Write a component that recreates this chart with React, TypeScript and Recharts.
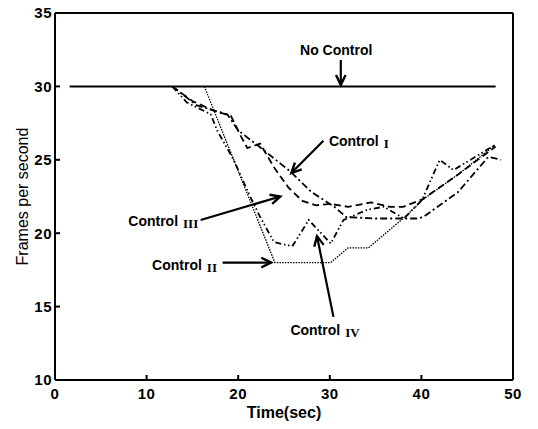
import React from "react";
import {
  LineChart,
  Line,
  XAxis,
  YAxis,
  ReferenceLine,
  ReferenceDot,
} from "recharts";

// time (sec) / frames per second
const noControlTime = [1.6, 48.1];
const noControlFps = [30, 30];

const control1Time = [12.8, 15.5, 18.8, 20, 22.5, 25.7, 28, 30.5, 31.8, 35, 39.5, 40.2, 44, 47.3, 48.7];
const control1Fps = [30, 28.7, 28.1, 27.0, 25.8, 24.2, 22.8, 21.8, 21.1, 21, 21, 21.1, 22.8, 25.2, 25];

const control2Time = [16.3, 24, 30.1, 32, 34.2, 38.2, 40.2, 44, 48];
const control2Fps = [30, 18, 18, 19, 19, 21.1, 22.3, 24, 26];

const control3Time = [12.8, 15, 17.5, 19.2, 20.3, 21, 22.4, 24, 25.5, 27, 28.5, 30, 32, 34.5, 36.5, 38, 40.1, 44, 48.1];
const control3Fps = [30, 29, 28.3, 28.0, 26.6, 25.8, 26.1, 24.4, 23.1, 22.2, 21.9, 22.0, 21.8, 22.1, 21.8, 21.8, 22.3, 24, 25.9];

const control4Time = [12.8, 14.4, 17, 17.7, 19.5, 21.3, 22.4, 23.9, 25.9, 27.7, 30.1, 31.5, 34.1, 35.9, 38.1, 40.1, 42, 43.5, 48];
const control4Fps = [30, 28.9, 28.1, 27.0, 25.0, 22.5, 21.1, 19.4, 19.1, 20.9, 19.3, 20.9, 21.6, 21.8, 21.0, 22.3, 25, 24.3, 26];

const xTicks = [0, 10, 20, 30, 40, 50];
const yTicks = [10, 15, 20, 25, 30, 35];

// annotations: label text, label anchor, arrow tail and tip
const labelMain = ["No Control", "Control", "Control", "Control", "Control"];
const labelNumeral = ["", "I", "III", "II", "IV"];
const labelX = [30.7, 29.9, 8.0, 10.6, 25.7];
const labelY = [32.5, 26.25, 20.8, 17.85, 13.4];
const arrowFromX = [31.2, 29.3, 15.9, 18.3, 30.4];
const arrowFromY = [31.8, 26.3, 20.9, 18.0, 14.3];
const arrowToX = [31.2, 25.8, 24.6, 23.6, 28.6];
const arrowToY = [30.1, 24.1, 22.5, 18.0, 19.8];

const pts = (t: number[], f: number[]) => t.map((time, i) => ({ time, fps: f[i] }));

const sans = "'Liberation Sans', Arial, Helvetica, sans-serif";
const serif = "'Liberation Serif', 'Times New Roman', serif";

const Arrow = (props: any) => {
  const { x1, y1, x2, y2 } = props;
  const a = Math.atan2(y2 - y1, x2 - x1);
  const len = 11;
  const s = 0.45;
  const p1 = [x2 - len * Math.cos(a - s), y2 - len * Math.sin(a - s)];
  const p2 = [x2 - len * Math.cos(a + s), y2 - len * Math.sin(a + s)];
  return (
    <g>
      <line x1={x1} y1={y1} x2={x2} y2={y2} stroke="#000" strokeWidth={2.2} />
      <polyline
        points={`${p1[0]},${p1[1]} ${x2},${y2} ${p2[0]},${p2[1]}`}
        fill="none"
        stroke="#000"
        strokeWidth={2.4}
      />
    </g>
  );
};

const makeLabel = (main: string, numeral: string) => (props: any) => (
  <text
    x={props.cx}
    y={props.cy}
    fontFamily={sans}
    fontWeight="bold"
    fontSize={14}
    dominantBaseline="central"
    textAnchor={numeral ? "start" : "middle"}
    fill="#000"
  >
    {main}
    {numeral && (
      <tspan fontFamily={serif} fontSize={13} dx={5} dy={2}>
        {numeral}
      </tspan>
    )}
  </text>
);

const tickStyle = { fontFamily: sans, fontWeight: "bold", fontSize: 15, fill: "#000", letterSpacing: 0.5 };

const XLabel = (p: any) => (
  <text
    x={p.viewBox.x + p.viewBox.width / 2}
    y={p.viewBox.y + 38}
    textAnchor="middle"
    fontFamily={sans}
    fontWeight="bold"
    fontSize={16}
    fill="#000"
  >
    Time(sec)
  </text>
);

const YLabel = (p: any) => {
  const cx = p.viewBox.x + 12;
  const cy = p.viewBox.y + p.viewBox.height / 2;
  return (
    <text
      x={cx}
      y={cy}
      transform={`rotate(-90, ${cx}, ${cy})`}
      textAnchor="middle"
      dominantBaseline="central"
      fontFamily={sans}
      fontSize={16}
      fill="#000"
    >
      Frames per second
    </text>
  );
};

const App: React.FC = () => {
  return (
    <div style={{ position: "absolute", left: 0, top: 0 }}>
      <LineChart width={538} height={429} margin={{ top: 12, right: 24, bottom: 0, left: 10 }}>
        <XAxis
          xAxisId="b"
          dataKey="time"
          type="number"
          domain={[0, 50]}
          ticks={xTicks}
          tickSize={-5}
          tickMargin={13}
          height={49}
          stroke="#000"
          strokeWidth={2}
          tick={tickStyle}
          label={{ content: XLabel }}
        />
        <XAxis
          xAxisId="t"
          orientation="top"
          type="number"
          domain={[0, 50]}
          ticks={xTicks}
          tickSize={-5}
          height={1}
          tick={false}
          stroke="#000"
          strokeWidth={2}
        />
        <YAxis
          yAxisId="l"
          type="number"
          domain={[10, 35]}
          ticks={yTicks}
          tickSize={-5}
          tickMargin={8}
          width={45}
          stroke="#000"
          strokeWidth={2}
          tick={tickStyle}
          label={{ content: YLabel }}
        />
        <YAxis
          yAxisId="r"
          orientation="right"
          type="number"
          domain={[10, 35]}
          ticks={yTicks}
          tickSize={-5}
          width={1}
          tick={false}
          stroke="#000"
          strokeWidth={2}
        />

        <Line xAxisId="b" yAxisId="l" data={pts(noControlTime, noControlFps)} dataKey="fps" stroke="#000" strokeWidth={2} dot={false} isAnimationActive={false} />
        <Line xAxisId="b" yAxisId="l" data={pts(control1Time, control1Fps)} dataKey="fps" stroke="#000" strokeWidth={1.8} strokeDasharray="7 3 2 3" dot={false} isAnimationActive={false} />
        <Line xAxisId="b" yAxisId="l" data={pts(control2Time, control2Fps)} dataKey="fps" stroke="#000" strokeWidth={1.3} strokeDasharray="1.5 1.2" dot={false} isAnimationActive={false} />
        <Line xAxisId="b" yAxisId="l" data={pts(control3Time, control3Fps)} dataKey="fps" stroke="#000" strokeWidth={1.8} strokeDasharray="7 4" dot={false} isAnimationActive={false} />
        <Line xAxisId="b" yAxisId="l" data={pts(control4Time, control4Fps)} dataKey="fps" stroke="#000" strokeWidth={1.8} strokeDasharray="6 3 1.5 2.5 1.5 3" dot={false} isAnimationActive={false} />

        {labelMain.map((m, i) => (
          <ReferenceLine
            key={`a${i}`}
            xAxisId="b"
            yAxisId="l"
            segment={[
              { x: arrowFromX[i], y: arrowFromY[i] },
              { x: arrowToX[i], y: arrowToY[i] },
            ]}
            shape={Arrow}
          />
        ))}
        {labelMain.map((m, i) => (
          <ReferenceDot
            key={`l${i}`}
            xAxisId="b"
            yAxisId="l"
            x={labelX[i]}
            y={labelY[i]}
            r={0}
            shape={makeLabel(m, labelNumeral[i])}
          />
        ))}
      </LineChart>
    </div>
  );
};

export default App;
